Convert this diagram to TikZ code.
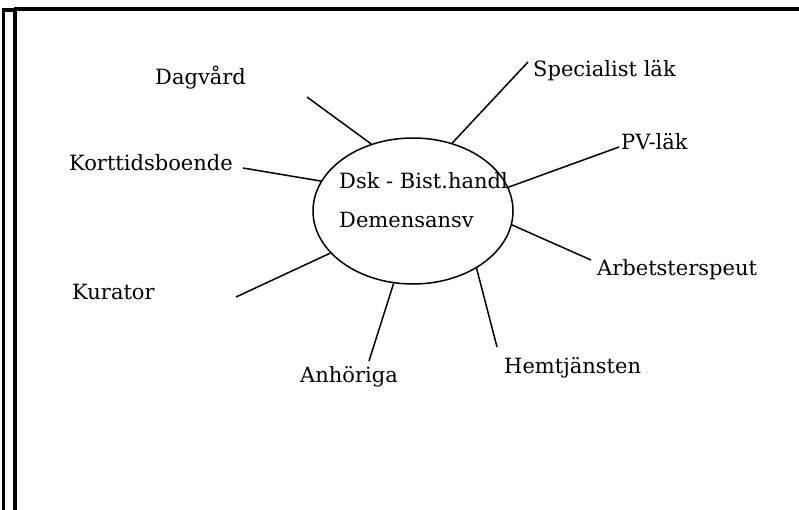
\documentclass[tikz,border=0pt]{standalone}
\usepackage{fontspec}
\setmainfont{DejaVu Serif}
\usepackage{tikz}
\usetikzlibrary{shapes.geometric}

\begin{document}
\begin{tikzpicture}[
  x=1pt,y=-1pt,
  hub/.style={ellipse,draw,line width=1.5pt,
              minimum width=200pt,minimum height=146pt,inner sep=0pt},
  lbl/.style={anchor=base west,inner sep=0pt,font=\fontsize{21}{25}\selectfont},
  spoke/.style={line width=1.5pt},
  frame/.style={line width=3.5pt}
]
  \useasboundingbox (0,0) rectangle (799,510);
  % page frame
  \draw[frame] (3.5,510) -- (3.5,10) -- (15,10);
  \draw[frame] (15,510) -- (15,8);
  \draw[frame,line width=4.5pt] (13.5,9) -- (799,9);

  % centre
  \node[hub] (hub) at (413,211) {};
  \node[lbl,align=left] (hubtop) at (339,189) {Dsk - Bist.handl};
  \node[lbl,align=left] (hubbot) at (339,228) {Demensansv};

  % labels
  \node[lbl] (dagvard) at (155,85)  {Dagvård};
  \node[lbl] (kort)    at (69,171)  {Korttidsboende};
  \node[lbl] (spec)    at (533,77)  {Specialist läk};
  \node[lbl] (pv)      at (621,150) {PV-läk};
  \node[lbl] (arbets)  at (597,276) {Arbetsterspeut};
  \node[lbl] (hemtj)   at (504,373) {Hemtjänsten};
  \node[lbl] (anhor)   at (300,382) {Anhöriga};
  \node[lbl] (kurator) at (72,299)  {Kurator};

  % free ends of the spokes
  \coordinate (dagvard-end) at (307,97);
  \coordinate (kort-end)    at (243,168);
  \coordinate (spec-end)    at (528,62);
  \coordinate (pv-end)      at (619,147);
  \coordinate (arbets-end)  at (591,260);
  \coordinate (hemtj-end)   at (497,347);
  \coordinate (anhor-end)   at (369,361);
  \coordinate (kurator-end) at (236,297);

  \draw[spoke] (hub.122.5) -- (dagvard-end);
  \draw[spoke] (hub.162.3) -- (kort-end);
  \draw[spoke] (hub.60.5)  -- (spec-end);
  \draw[spoke] (hub.14.6)  -- (pv-end);
  \draw[spoke] (hub.-8.5)  -- (arbets-end);
  \draw[spoke] (hub.-42.7) -- (hemtj-end);
  \draw[spoke] (hub.-105.3) -- (anhor-end);
  \draw[spoke] (hub.-153)  -- (kurator-end);
\end{tikzpicture}
\end{document}
